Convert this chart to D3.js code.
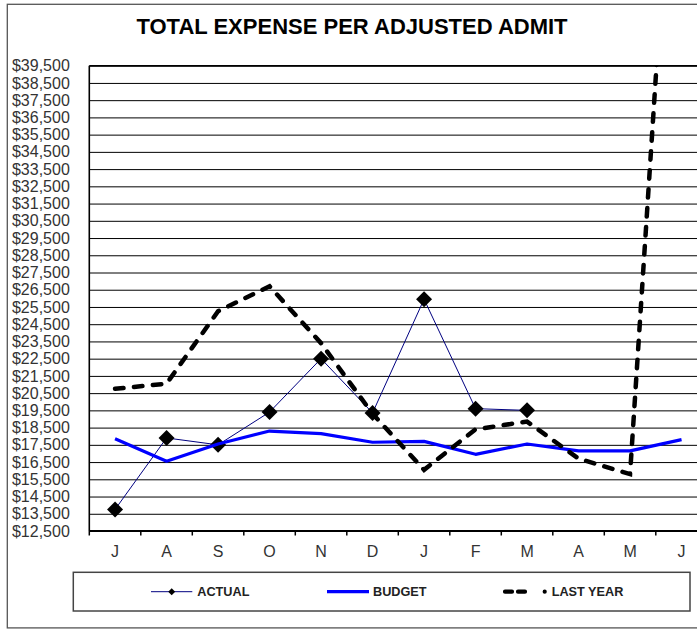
<!DOCTYPE html>
<html>
<head>
<meta charset="utf-8">
<script src="https://cdn.jsdelivr.net/npm/d3@7"></script>
<style>
  html, body { margin: 0; padding: 0; background: #fff; overflow: hidden; }
  svg { display: block; font-family: "Liberation Sans", Arial, sans-serif; }
</style>
</head>
<body>
<svg id="chart" width="697" height="629"></svg>
<script>
// Fiscal-year months, July through June
const months = ["J", "A", "S", "O", "N", "D", "J", "F", "M", "A", "M", "J"];

// Total expense per adjusted admit, dollars
const actual   = [13750, 17900, 17500, 19400, 22500, 19350, 25950, 19600, 19500, null, null, null];
const budget   = [17850, 16550, 17550, 18300, 18150, 17650, 17700, 16950, 17550, 17150, 17150, 17800];
const lastYear = [20750, 21050, 25250, 26700, 23400, 19300, 16050, 18400, 18850, 16700, 15800, 61900];

// Value axis gridlines / labels
const yTicks = d3.range(12500, 39501, 1000);

const svg = d3.select("#chart");
const plot = { left: 89.3, top: 65.7, width: 618, height: 465.3 };

// Chart frame
svg.append("rect")
  .attr("x", 7.3).attr("y", 4.3)
  .attr("width", 720).attr("height", 623.6)
  .attr("fill", "#fff")
  .attr("stroke", "#555").attr("stroke-width", 1.3);

// Title
svg.append("text")
  .attr("x", 352).attr("y", 34.3)
  .attr("text-anchor", "middle")
  .attr("font-size", 22).attr("font-weight", "bold")
  .attr("fill", "#000")
  .text("TOTAL EXPENSE PER ADJUSTED ADMIT");

const x = d3.scaleBand().domain(d3.range(months.length)).range([0, plot.width]).padding(0);
const y = d3.scaleLinear().domain([12500, 39500]).range([plot.height, 0]);
const cx = i => x(i) + x.bandwidth() / 2;

const g = svg.append("g").attr("transform", `translate(${plot.left},${plot.top})`);

svg.append("defs").append("clipPath").attr("id", "plot-clip")
  .append("rect").attr("x", 0).attr("y", 0)
  .attr("width", plot.width).attr("height", plot.height);

// Horizontal gridlines
g.append("g")
  .call(d3.axisLeft(y).tickValues(yTicks).tickSize(-plot.width).tickFormat(""))
  .call(a => a.select(".domain").remove())
  .call(a => a.selectAll(".tick line").attr("stroke", "#000").attr("stroke-width", 1));

// Value labels
g.append("g")
  .call(d3.axisLeft(y).tickValues(yTicks).tickSize(0).tickPadding(19.5).tickFormat(d3.format("$,")))
  .call(a => a.select(".domain").remove())
  .call(a => a.selectAll(".tick text")
    .attr("font-family", "'Liberation Sans', Arial, sans-serif")
    .attr("font-size", 16).attr("fill", "#333"));

// Category labels
g.append("g")
  .attr("transform", `translate(0,${plot.height})`)
  .call(d3.axisBottom(x).tickSize(0).tickPadding(15).tickFormat(i => months[i]))
  .call(a => a.select(".domain").remove())
  .call(a => a.selectAll(".tick text")
    .attr("font-family", "'Liberation Sans', Arial, sans-serif")
    .attr("font-size", 16).attr("fill", "#333"));

// Axis lines and category tick marks
g.append("line")
  .attr("x1", 0).attr("x2", 0).attr("y1", 0).attr("y2", plot.height)
  .attr("stroke", "#000").attr("stroke-width", 1.6);
g.append("line")
  .attr("x1", 0).attr("x2", plot.width).attr("y1", plot.height).attr("y2", plot.height)
  .attr("stroke", "#000").attr("stroke-width", 2);
g.append("line")
  .attr("x1", 0).attr("x2", plot.width).attr("y1", 0).attr("y2", 0)
  .attr("stroke", "#000").attr("stroke-width", 1.6);
g.append("g").selectAll("line")
  .data(d3.range(months.length + 1))
  .join("line")
  .attr("x1", i => i < months.length ? x(i) : plot.width)
  .attr("x2", i => i < months.length ? x(i) : plot.width)
  .attr("y1", plot.height).attr("y2", plot.height + 4.5)
  .attr("stroke", "#000").attr("stroke-width", 1.5);

const line = d3.line()
  .defined(d => d != null)
  .x((d, i) => cx(i))
  .y(d => y(d));

// ACTUAL
g.append("path")
  .datum(actual)
  .attr("d", line)
  .attr("fill", "none")
  .attr("stroke", "#000080").attr("stroke-width", 1);

const diamond = d3.symbol(d3.symbolSquare, 128);
g.append("g").selectAll("path")
  .data(actual.map((v, i) => ({ v, i })).filter(d => d.v != null))
  .join("path")
  .attr("d", diamond)
  .attr("transform", d => `translate(${cx(d.i)},${y(d.v)}) rotate(45)`)
  .attr("fill", "#000");

// BUDGET
g.append("path")
  .datum(budget)
  .attr("d", line)
  .attr("fill", "none")
  .attr("stroke", "#0000ff").attr("stroke-width", 3.2)
  .attr("stroke-linejoin", "round");

// LAST YEAR
g.append("path")
  .datum(lastYear)
  .attr("clip-path", "url(#plot-clip)")
  .attr("d", line)
  .attr("fill", "none")
  .attr("stroke", "#000").attr("stroke-width", 4.5)
  .attr("stroke-linecap", "round")
  .attr("stroke-dasharray", "8.5,10.5");

// Legend
const lg = svg.append("g");
lg.append("rect")
  .attr("x", 73.3).attr("y", 572.3)
  .attr("width", 616.7).attr("height", 38.7)
  .attr("fill", "#fff")
  .attr("stroke", "#444").attr("stroke-width", 1.5);

const ly = 591.7;
lg.append("line")
  .attr("x1", 151).attr("x2", 192.3).attr("y1", ly).attr("y2", ly)
  .attr("stroke", "#000080").attr("stroke-width", 1);
lg.append("path")
  .attr("d", d3.symbol(d3.symbolSquare, 24))
  .attr("transform", `translate(171.7,${ly}) rotate(45)`)
  .attr("fill", "#000");

lg.append("line")
  .attr("x1", 327).attr("x2", 369).attr("y1", ly).attr("y2", ly)
  .attr("stroke", "#0000ff").attr("stroke-width", 3.2);

lg.append("line")
  .attr("x1", 505).attr("x2", 546).attr("y1", ly).attr("y2", ly)
  .attr("stroke", "#000").attr("stroke-width", 4.2)
  .attr("stroke-linecap", "round")
  .attr("stroke-dasharray", "7,6,7,19.7,0.01,100");

const legendItems = [
  { label: "ACTUAL", x: 197.3 },
  { label: "BUDGET", x: 373 },
  { label: "LAST YEAR", x: 551.7 }
];
lg.selectAll("text.item")
  .data(legendItems)
  .join("text")
  .attr("class", "item")
  .attr("x", d => d.x).attr("y", ly)
  .attr("dy", "0.36em")
  .attr("font-size", 12.7).attr("font-weight", "bold")
  .attr("fill", "#222")
  .text(d => d.label);
</script>
</body>
</html>
